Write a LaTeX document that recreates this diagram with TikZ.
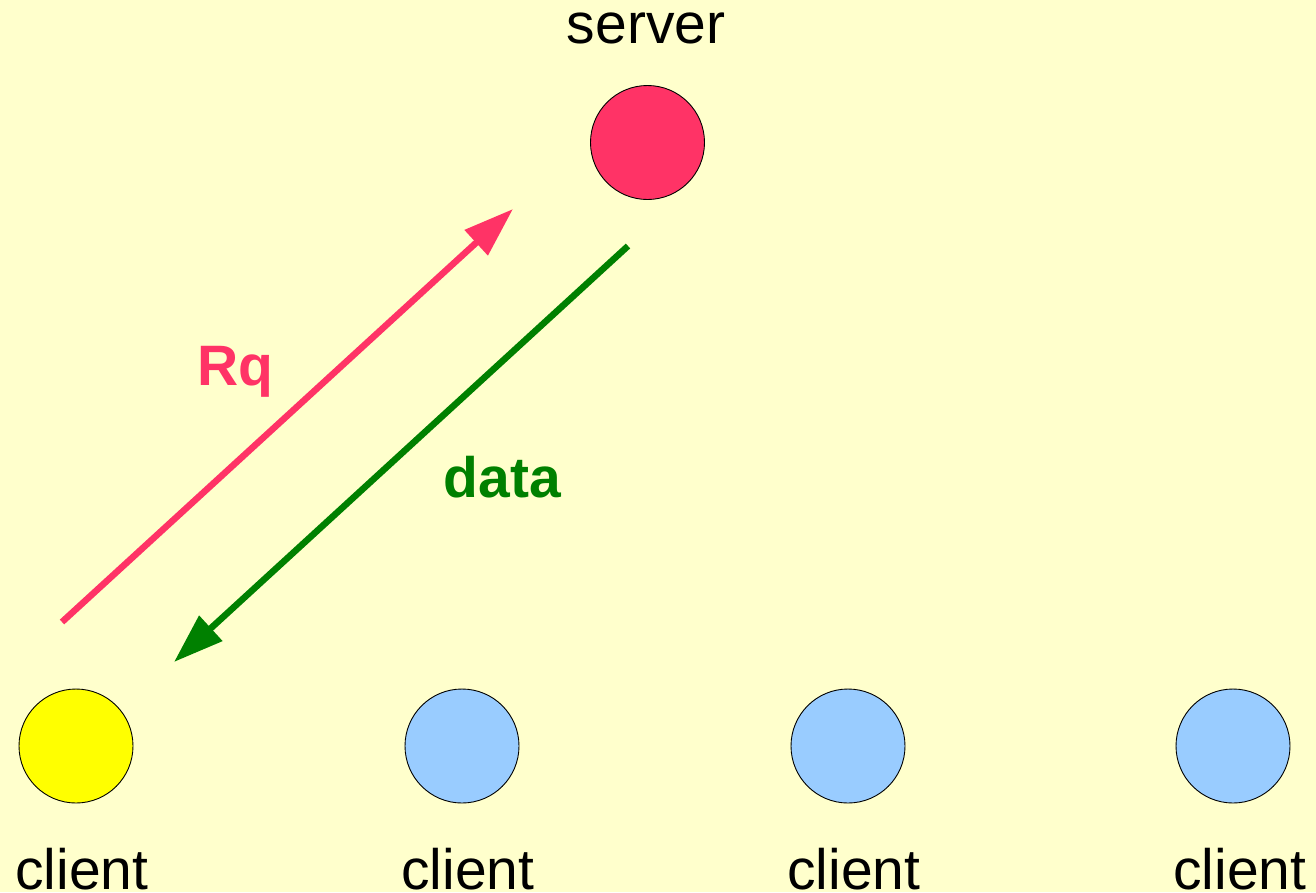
\documentclass[tikz,border=0pt]{standalone}
\usepackage{fontspec}
\setmainfont{Liberation Sans}
\usetikzlibrary{arrows.meta}
\definecolor{bg}{HTML}{FFFFCC}
\definecolor{pinkc}{HTML}{FF3366}
\definecolor{yellowc}{HTML}{FFFF00}
\definecolor{bluec}{HTML}{99CCFF}
\definecolor{greenc}{HTML}{008000}
\begin{document}
\begin{tikzpicture}[x=1pt,y=-1pt,
  dot/.style={circle,draw=black,line width=0.9pt,minimum size=114pt,inner sep=0pt},
  lbl/.style={anchor=base,inner sep=0pt,font=\fontsize{57}{60}\selectfont},
  arr/.style={line width=6.5pt,-{Triangle[length=50pt,width=33pt]}}]
\fill[bg] (0,0) rectangle (1316,892);
\useasboundingbox (0,0) rectangle (1316,892);
% server
\node[dot,fill=pinkc] (server) at (647.5,142.5) {};
\node[lbl] (serverlbl) at (646,43) {server};
% clients
\node[dot,fill=yellowc] (c1) at (76,746) {};
\node[dot,fill=bluec] (c2) at (462,746) {};
\node[dot,fill=bluec] (c3) at (848,746) {};
\node[dot,fill=bluec] (c4) at (1233,746) {};
\node[lbl] (l1) at (82,889) {client};
\node[lbl] (l2) at (468,889) {client};
\node[lbl] (l3) at (854,889) {client};
\node[lbl] (l4) at (1240,889) {client};
% arrows
\coordinate (rqs) at (62,622);
\coordinate (rqe) at (513,209);
\coordinate (ds) at (628,246);
\coordinate (de) at (174,662);
\draw[arr,pinkc] (rqs) -- (rqe);
\draw[arr,greenc] (ds) -- (de);
\node[lbl,text=pinkc,font=\fontsize{57}{60}\selectfont\bfseries] (rq) at (235.7,385) {Rq};
\node[lbl,text=greenc,font=\fontsize{57}{60}\selectfont\bfseries] (data) at (502.5,497) {data};
\end{tikzpicture}
\end{document}
